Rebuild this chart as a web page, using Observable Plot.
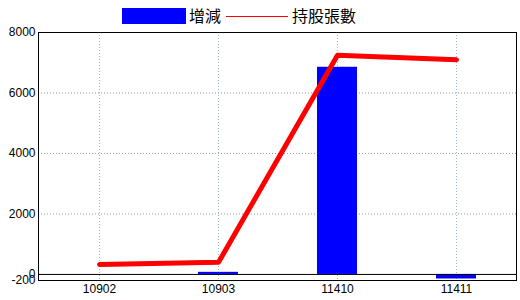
<!DOCTYPE html>
<html><head><meta charset="utf-8">
<script src="https://cdn.jsdelivr.net/npm/d3@7"></script>
<script src="https://cdn.jsdelivr.net/npm/@observablehq/plot@0.6"></script>
<style>
body{margin:0;background:#fff;font-family:"Liberation Sans",Arial,sans-serif;position:relative;}
#legend{position:absolute;left:0;top:0;width:520px;height:30px;z-index:2;font-family:"Noto Sans CJK TC","Noto Sans CJK SC",sans-serif;font-size:16px;color:#000;}
#legend .sw{position:absolute;}
#legend .t{position:absolute;top:5px;line-height:20px;}
#chart svg{display:block;}
</style></head><body>
<div id="legend">
  <span class="sw" style="left:122px;top:8px;width:64px;height:16px;background:#0000ff"></span>
  <span class="t" style="left:189px">增減</span>
  <span class="sw" style="left:226px;top:16px;width:62px;height:1px;background:#ff0000"></span>
  <span class="t" style="left:292px">持股張數</span>
</div>
<div id="chart"></div>
<script>
const periods = ["10902", "10903", "11410", "11411"];
const changes = [0, 70, 6850, -150];
const holdings = [330, 400, 7250, 7100];
const yTicks = [-200, 0, 2000, 4000, 6000, 8000];
const gridY = [2000, 4000, 6000];

const data = periods.map((p, i) => ({period: p, change: changes[i], holding: holdings[i]}));

const chart = Plot.plot({
  width: 520, height: 300,
  marginTop: 32, marginBottom: 20, marginLeft: 38, marginRight: 4,
  style: {fontSize: "12px", fontFamily: "'Liberation Sans', Arial, sans-serif", color: "#000", background: "transparent"},
  x: {domain: periods, paddingInner: 0.665, paddingOuter: 0.3325, label: null},
  y: {domain: [-200, 8000], label: null},
  marks: [
    Plot.ruleY(gridY, {stroke: "#999", strokeDasharray: "1,2"}),
    Plot.ruleX(periods, {x: d => d, stroke: "#9ab8c8", strokeDasharray: "1,2"}),
    Plot.barY(data, {x: "period", y: "change", fill: "#0000ff"}),
    Plot.ruleY([0], {stroke: "#000", strokeWidth: 1}),
    Plot.lineY(data, {x: "period", y: "holding", stroke: "#ff0000", strokeWidth: 5, strokeLinejoin: "round", strokeLinecap: "round"}),
    Plot.frame({stroke: "#000"}),
    Plot.axisX({tickSize: 0, tickPadding: 4, label: null}),
    Plot.axisY({ticks: yTicks, tickSize: 0, tickPadding: 3, label: null, tickFormat: d => String(d)})
  ]
});
document.getElementById("chart").appendChild(chart);
</script>
</body></html>
